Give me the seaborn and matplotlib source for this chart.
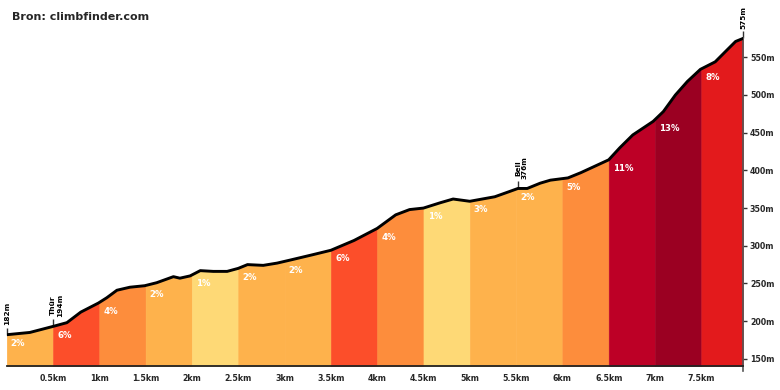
import numpy as np
import matplotlib
matplotlib.use("Agg")
import matplotlib.pyplot as plt
import seaborn as sns

# ── Profile (distance in km, elevation in m) ──
dist_km = [0, 0.25, 0.5, 0.65, 0.8, 0.99, 1.08, 1.19, 1.33, 1.49, 1.62, 1.8, 1.87,
           1.98, 2.09, 2.23, 2.38, 2.5, 2.6, 2.77, 2.92, 3.06, 3.3, 3.5, 3.75, 4.0,
           4.2, 4.35, 4.5, 4.68, 4.82, 5.0, 5.18, 5.27, 5.43, 5.52, 5.62, 5.76, 5.87,
           6.06, 6.2, 6.5, 6.62, 6.76, 6.98, 7.09, 7.22, 7.35, 7.49, 7.65, 7.78, 7.87, 7.95]
elev_m = [182, 185, 193, 198, 212, 224, 231, 241, 245, 247, 251, 259, 257,
          260, 267, 266, 266, 270, 275, 274, 277, 281, 288, 294, 307, 323,
          341, 348, 350, 357, 362, 359, 363, 365, 372, 376, 376, 383, 387,
          390, 397, 414, 430, 447, 465, 478, 500, 518, 534, 544, 560, 571, 575]

# ── Gradient segments ──
seg_start_km = [0, 0.5, 1, 1.5, 2, 2.5, 3, 3.5, 4, 4.5, 5, 5.5, 6, 6.5, 7, 7.5]
seg_grade = [2, 6, 4, 2, 1, 2, 2, 6, 4, 1, 3, 2, 5, 11, 13, 8]
grade_colors = {1: "#fed976", 2: "#feb24c", 3: "#feb24c", 4: "#fd8d3c", 5: "#fd8d3c",
                6: "#fc4e2a", 8: "#e31a1c", 11: "#bd0026", 13: "#9b0022"}

# ── Points of interest ──
poi_km = [0, 0.5, 5.52, 7.95]
poi_label = ["182m", "Thür\n194m", "Bell\n376m", "575m"]

x_ticks = [0.5, 1, 1.5, 2, 2.5, 3, 3.5, 4, 4.5, 5, 5.5, 6, 6.5, 7, 7.5]
x_ticklabels = ["0.5km", "1km", "1.5km", "2km", "2.5km", "3km", "3.5km", "4km",
                "4.5km", "5km", "5.5km", "6km", "6.5km", "7km", "7.5km"]
y_ticks = [150, 200, 250, 300, 350, 400, 450, 500, 550]
y_ticklabels = [f"{v}m" for v in y_ticks]

Y_MIN, Y_MAX = 140.5, 626

# ──────────────────────────────────────────────
sns.set_style("white")
plt.rcParams["font.family"] = ["DejaVu Sans"]

dist = np.array(dist_km)
elev = np.array(elev_m)
end_km = dist[-1]

fig = plt.figure(figsize=(7.8, 3.9), dpi=100)
ax = fig.add_axes([6.7 / 780, 24 / 390, (743 - 6.7) / 780, 366 / 390])

seg_end_km = seg_start_km[1:] + [end_km]
for s, e, g in zip(seg_start_km, seg_end_km, seg_grade):
    inside = (dist > s) & (dist < e)
    xs = np.concatenate([[s], dist[inside], [e]])
    ys = np.interp(xs, dist, elev)
    ax.fill_between(xs, ys, Y_MIN, facecolor=grade_colors[g],
                    edgecolor=grade_colors[g], lw=0.4, zorder=1)
    ax.text(s + 0.045, np.interp(s, dist, elev) - 11.5, f"{g}%", color="white",
            fontsize=6.2, fontweight="bold", ha="left", va="center", zorder=4)

sns.lineplot(x=dist, y=elev, color="black", linewidth=2.1, ax=ax, zorder=3,
             solid_capstyle="round", solid_joinstyle="round")

for d, lbl in zip(poi_km, poi_label):
    e = np.interp(d, dist, elev)
    ax.vlines(d, e, e + 9.5, color="#333333", lw=1, zorder=2, clip_on=False)
    dx = 2.6 if "\n" in lbl else 0
    ax.annotate(lbl, xy=(d, e + 9.5), xytext=(dx, 1.5), textcoords="offset points",
                rotation=90, ha="center", va="bottom", fontsize=5.3,
                fontweight="bold", color="black", linespacing=1.1,
                annotation_clip=False)

ax.set_xlim(0, end_km)
ax.set_ylim(Y_MIN, Y_MAX)

ax.set_xticks(x_ticks)
ax.set_xticklabels(x_ticklabels, fontsize=5.7, fontweight="bold")
ax.yaxis.tick_right()
ax.set_yticks(y_ticks)
ax.set_yticklabels(y_ticklabels, fontsize=5.7, fontweight="bold")
ax.tick_params(axis="x", length=3, width=1, color="#333333", pad=3)
ax.tick_params(axis="y", length=3, width=1, color="#333333", pad=2)

for side in ["left", "top"]:
    ax.spines[side].set_visible(False)
ax.spines["bottom"].set_color("#222222")
ax.spines["bottom"].set_linewidth(1.3)
ax.spines["right"].set_color("#555555")
ax.spines["right"].set_linewidth(1.2)
ax.spines["right"].set_bounds(Y_MIN - 7, elev[-1])
ax.set_xlabel("")
ax.set_ylabel("")

fig.text(12 / 780, 1 - 17 / 390, "Bron: climbfinder.com", fontsize=8,
         fontweight="bold", va="center", ha="left")

fig.savefig("out.png", dpi=100)
